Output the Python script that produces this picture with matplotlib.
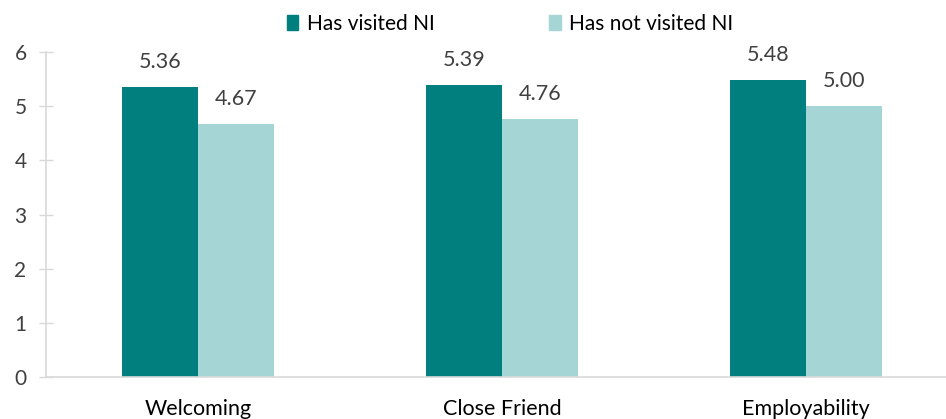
import matplotlib
matplotlib.use("Agg")
import matplotlib.pyplot as plt
import numpy as np
from matplotlib.patches import Patch

categories = ["Welcoming", "Close Friend", "Employability"]
visited = [5.36, 5.39, 5.48]
not_visited = [4.67, 4.76, 5.00]
series_names = ["Has visited NI", "Has not visited NI"]
yticks = [0, 1, 2, 3, 4, 5, 6]

dark = "#007F7F"
light = "#A5D5D4"
txt = "#404040"
grid = "#D9D9D9"

plt.rcParams['font.family'] = ['Lato', 'DejaVu Sans']

W, H = 946, 419
fig = plt.figure(figsize=(W / 100, H / 100), dpi=100)
ax = fig.add_axes([46 / W, (419 - 377) / H, 912 / W, 325 / H])

x = np.arange(len(categories))
bw = 0.25
b1 = ax.bar(x - bw / 2, visited, bw, color=dark)
b2 = ax.bar(x + bw / 2, not_visited, bw, color=light)

for bars, vals in ((b1, visited), (b2, not_visited)):
    for r, v in zip(bars, vals):
        ax.annotate(f"{v:.2f}", (r.get_x() + r.get_width() / 2, v),
                    xytext=(0, 18), textcoords="offset points",
                    ha="center", va="center", fontsize=15.5, color=txt)

ax.set_xlim(-0.5, 2.5)
ax.set_ylim(0, 6)
ax.set_yticks(yticks)
ax.set_xticks(x)
ax.set_xticklabels(categories)
ax.tick_params(axis="x", length=0, pad=16, labelsize=15.5, labelcolor="black")
ax.tick_params(axis="y", direction="inout", length=10, width=1, color=grid,
               pad=9, labelsize=15, labelcolor=txt)
for s in ("top", "right"):
    ax.spines[s].set_visible(False)
for s in ("left", "bottom"):
    ax.spines[s].set_color(grid)
    ax.spines[s].set_linewidth(1.2)

handles = [Patch(color=dark), Patch(color=light)]
fig.legend(handles, series_names, loc="center", bbox_to_anchor=(510 / W, 1 - 24 / H),
           ncol=2, frameon=False, fontsize=15, handlelength=0.55, handleheight=0.75,
           handletextpad=0.4, columnspacing=5.5, labelcolor="black")

fig.savefig("out.png", dpi=100)
